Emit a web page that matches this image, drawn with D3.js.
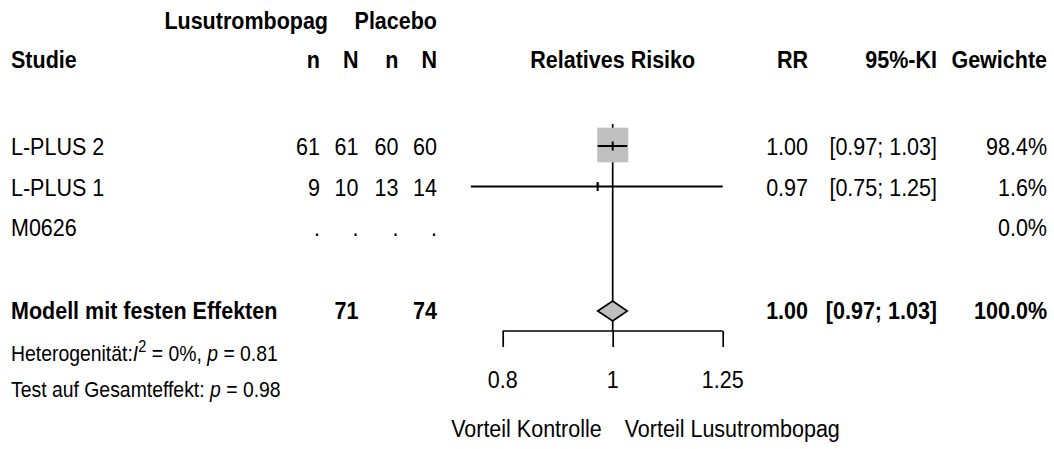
<!DOCTYPE html>
<html>
<head>
<meta charset="utf-8">
<script src="https://cdn.jsdelivr.net/npm/d3@7"></script>
<style>
  html, body { margin: 0; padding: 0; background: #fff; }
  svg { display: block; }
  text { font-family: "Liberation Sans", Arial, sans-serif; fill: #000; }
</style>
</head>
<body>
<svg id="chart" width="1054" height="449"></svg>
<script>
// ---------------- data ----------------
const studies     = ["L-PLUS 2", "L-PLUS 1", "M0626"];
const eventsExp   = [61, 9, null];
const totalExp    = [61, 10, null];
const eventsCtrl  = [60, 13, null];
const totalCtrl   = [60, 14, null];
const rr          = [1.00, 0.97, null];
const ciLower     = [0.97, 0.75, null];
const ciUpper     = [1.03, 1.25, null];
const weights     = [98.4, 1.6, 0.0];

const pooledLabel = "Modell mit festen Effekten";
const pooledRR    = 1.00;
const pooledLower = 0.97;
const pooledUpper = 1.03;
const pooledExpN  = 71;
const pooledCtrlN = 74;
const pooledWeight = 100.0;

const xTicks      = [0.8, 1, 1.25];
const tickLabels  = ["0.8", "1", "1.25"];
const favourLeft  = "Vorteil Kontrolle";
const favourRight = "Vorteil Lusutrombopag";

// ---------------- layout ----------------
const svg = d3.select("#chart");
const FS = 21.5, FSsmall = 19.4, VS = 1.13;
const x = d3.scaleLog().domain([0.8, 1.25]).range([502.7, 722.7]);
const rowY = d3.scalePoint().domain(studies).range([147, 228]);
const pooledY = 311;
const baseOff = 8.3; // text baseline offset from row centre

const colRight = { n1: 320, N1: 358.5, n2: 398.5, N2: 437, rr: 808, ci: 937, w: 1047 };
const xLeft = 11;

function txt(xp, yp, s, opts = {}) {
  return svg.append("text")
    .attr("transform", `translate(${xp},${yp}) scale(1,${VS})`)
    .attr("text-anchor", opts.anchor || "start")
    .style("font-size", (opts.size || FS) + "px")
    .style("font-weight", opts.bold ? "bold" : "normal")
    .text(s);
}
const f2 = d3.format(".2f");
const f1 = d3.format(".1f");

// headers
txt(328, 29, "Lusutrombopag", { anchor: "end", bold: true });
txt(colRight.N2, 29, "Placebo", { anchor: "end", bold: true });
const hy = 68;
txt(xLeft, hy, "Studie", { bold: true });
txt(colRight.n1, hy, "n", { anchor: "end", bold: true });
txt(colRight.N1, hy, "N", { anchor: "end", bold: true });
txt(colRight.n2, hy, "n", { anchor: "end", bold: true });
txt(colRight.N2, hy, "N", { anchor: "end", bold: true });
txt(x(1), hy, "Relatives Risiko", { anchor: "middle", bold: true });
txt(colRight.rr, hy, "RR", { anchor: "end", bold: true });
txt(colRight.ci, hy, "95%-KI", { anchor: "end", bold: true });
txt(colRight.w, hy, "Gewichte", { anchor: "end", bold: true });

// study rows text
studies.forEach((s, i) => {
  const yb = rowY(s) + baseOff;
  txt(xLeft, yb, s);
  const cell = v => v == null ? "." : String(v);
  txt(colRight.n1, yb, cell(eventsExp[i]), { anchor: "end" });
  txt(colRight.N1, yb, cell(totalExp[i]), { anchor: "end" });
  txt(colRight.n2, yb, cell(eventsCtrl[i]), { anchor: "end" });
  txt(colRight.N2, yb, cell(totalCtrl[i]), { anchor: "end" });
  if (rr[i] != null) {
    txt(colRight.rr, yb, f2(rr[i]), { anchor: "end" });
    txt(colRight.ci, yb, "[" + f2(ciLower[i]) + "; " + f2(ciUpper[i]) + "]", { anchor: "end" });
  }
  txt(colRight.w, yb, f1(weights[i]) + "%", { anchor: "end" });
});

// pooled row text
const pyb = pooledY + baseOff;
txt(xLeft, pyb, pooledLabel, { bold: true });
txt(colRight.N1, pyb, String(pooledExpN), { anchor: "end", bold: true });
txt(colRight.N2, pyb, String(pooledCtrlN), { anchor: "end", bold: true });
txt(colRight.rr, pyb, f2(pooledRR), { anchor: "end", bold: true });
txt(colRight.ci, pyb, "[" + f2(pooledLower) + "; " + f2(pooledUpper) + "]", { anchor: "end", bold: true });
txt(colRight.w, pyb, f1(pooledWeight) + "%", { anchor: "end", bold: true });

// heterogeneity text
const het = svg.append("text").attr("transform", `translate(${xLeft},361) scale(1,${VS})`).style("font-size", FSsmall + "px");
het.append("tspan").text("Heterogenität:");
het.append("tspan").style("font-style", "italic").text("I");
het.append("tspan").attr("dy", -8).style("font-size", (FSsmall * 0.75) + "px").text("2");
het.append("tspan").attr("dy", 8).text(" = 0%, ");
het.append("tspan").style("font-style", "italic").text("p");
het.append("tspan").text(" = 0.81");

const tst = svg.append("text").attr("transform", `translate(${xLeft},397) scale(1,${VS})`).style("font-size", FSsmall + "px");
tst.append("tspan").text("Test auf Gesamteffekt: ");
tst.append("tspan").style("font-style", "italic").text("p");
tst.append("tspan").text(" = 0.98");

// ---------------- graphics ----------------
const axisY = 331;
// reference line at 1
svg.append("line")
  .attr("x1", x(1)).attr("x2", x(1))
  .attr("y1", 124).attr("y2", axisY)
  .attr("stroke", "#000").attr("stroke-width", 1.7);

// squares
const sideScale = d3.scaleSqrt().domain([0, 98.4]).range([0, 31]);
studies.forEach((s, i) => {
  if (rr[i] == null) return;
  const side = sideScale(weights[i]);
  const h = side * 1.12;
  svg.append("rect")
    .attr("x", x(rr[i]) - side / 2)
    .attr("y", rowY(s) - 2 - h / 2)
    .attr("width", side).attr("height", h)
    .attr("fill", "#bfbfbf");
});
// CI lines and estimate ticks
studies.forEach((s, i) => {
  if (rr[i] == null) return;
  const cy = rowY(s) - 1;
  svg.append("line")
    .attr("x1", x(ciLower[i])).attr("x2", x(ciUpper[i]))
    .attr("y1", cy).attr("y2", cy)
    .attr("stroke", "#000").attr("stroke-width", 2);
  svg.append("line")
    .attr("x1", x(rr[i])).attr("x2", x(rr[i]))
    .attr("y1", cy - 4.5).attr("y2", cy + 4.5)
    .attr("stroke", "#000").attr("stroke-width", 2);
});

// pooled diamond
const dH = 10;
svg.append("path")
  .attr("d", `M${x(pooledLower)},${pooledY} L${x(pooledRR)},${pooledY - dH} L${x(pooledUpper)},${pooledY} L${x(pooledRR)},${pooledY + dH} Z`)
  .attr("fill", "#bfbfbf").attr("stroke", "#000").attr("stroke-width", 1.6);

// axis
const axis = d3.axisBottom(x).tickValues(xTicks).tickFormat((d, i) => tickLabels[i]).tickSize(16).tickPadding(0);
const ag = svg.append("g").attr("transform", `translate(0,${axisY})`).call(axis);
ag.select(".domain").remove();
ag.append("line").attr("x1", x(0.8)).attr("x2", x(1.25)).attr("y1", 0).attr("y2", 0)
  .attr("stroke", "#000").attr("stroke-width", 1.7);
ag.selectAll(".tick line").attr("stroke", "#000").attr("stroke-width", 1.7);
ag.selectAll(".tick text").remove();
xTicks.forEach((t, i) => txt(x(t), 388, tickLabels[i], { anchor: "middle" }));

// favour labels
txt(x(1) - 11, 437, favourLeft, { anchor: "end" });
txt(x(1) + 12, 437, favourRight, { anchor: "start" });
</script>
</body>
</html>
